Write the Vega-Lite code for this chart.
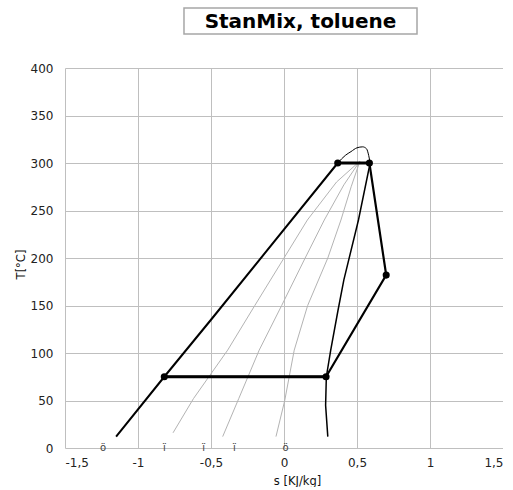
{
  "$schema": "https://vega.github.io/schema/vega-lite/v6.json",
  "padding": {"left": 15, "top": 7, "right": 0, "bottom": 0},
  "background": "white",
  "config": {
    "view": {"stroke": null},
    "font": "DejaVu Sans",
    "axis": {
      "grid": true, "gridColor": "#bfbfbf", "gridWidth": 1,
      "domain": false, "ticks": false,
      "labelFont": "DejaVu Sans", "labelFontSize": 12, "labelColor": "#222",
      "titleFont": "DejaVu Sans", "titleFontSize": 11.5, "titleFontWeight": "normal", "titleColor": "#111"
    }
  },
  "datasets": {
    "grey": [
      {"c": "L1", "i": 1, "s": -0.76, "T": 16},
      {"c": "L1", "i": 2, "s": -0.62, "T": 52},
      {"c": "L1", "i": 3, "s": -0.386, "T": 103},
      {"c": "L1", "i": 4, "s": -0.2, "T": 150},
      {"c": "L1", "i": 5, "s": 0.0, "T": 200},
      {"c": "L1", "i": 6, "s": 0.16, "T": 240},
      {"c": "L1", "i": 7, "s": 0.36, "T": 280},
      {"c": "L1", "i": 8, "s": 0.52, "T": 302},
      {"c": "L2", "i": 1, "s": -0.42, "T": 12},
      {"c": "L2", "i": 2, "s": -0.31, "T": 52},
      {"c": "L2", "i": 3, "s": -0.17, "T": 103},
      {"c": "L2", "i": 4, "s": -0.016, "T": 150},
      {"c": "L2", "i": 5, "s": 0.145, "T": 200},
      {"c": "L2", "i": 6, "s": 0.276, "T": 240},
      {"c": "L2", "i": 7, "s": 0.41, "T": 277},
      {"c": "L2", "i": 8, "s": 0.52, "T": 302},
      {"c": "L3", "i": 1, "s": -0.055, "T": 12},
      {"c": "L3", "i": 2, "s": 0.005, "T": 50},
      {"c": "L3", "i": 3, "s": 0.07, "T": 103},
      {"c": "L3", "i": 4, "s": 0.162, "T": 150},
      {"c": "L3", "i": 5, "s": 0.3, "T": 200},
      {"c": "L3", "i": 6, "s": 0.39, "T": 240},
      {"c": "L3", "i": 7, "s": 0.46, "T": 275},
      {"c": "L3", "i": 8, "s": 0.52, "T": 302}
    ],
    "liquid": [
      {"i": 1, "s": -1.15, "T": 12},
      {"i": 2, "s": -0.82, "T": 75},
      {"i": 3, "s": -0.5, "T": 135},
      {"i": 4, "s": 0.368, "T": 300}
    ],
    "dome": [
      {"i": 1, "s": 0.368, "T": 300},
      {"i": 2, "s": 0.42, "T": 308},
      {"i": 3, "s": 0.459, "T": 312},
      {"i": 4, "s": 0.5, "T": 316},
      {"i": 5, "s": 0.539, "T": 317},
      {"i": 6, "s": 0.565, "T": 315},
      {"i": 7, "s": 0.58, "T": 308},
      {"i": 8, "s": 0.59, "T": 300}
    ],
    "vapor": [
      {"i": 1, "s": 0.59, "T": 300},
      {"i": 2, "s": 0.51, "T": 240},
      {"i": 3, "s": 0.41, "T": 177},
      {"i": 4, "s": 0.37, "T": 145},
      {"i": 5, "s": 0.32, "T": 103},
      {"i": 6, "s": 0.29, "T": 75},
      {"i": 7, "s": 0.285, "T": 45},
      {"i": 8, "s": 0.3, "T": 12}
    ],
    "cycle": [
      {"i": 1, "s": -0.82, "T": 75},
      {"i": 2, "s": 0.288, "T": 75},
      {"i": 3, "s": 0.7, "T": 182},
      {"i": 4, "s": 0.585, "T": 300},
      {"i": 5, "s": 0.368, "T": 300}
    ],
    "isobars": [
      {"seg": "low", "s": -0.82, "T": 75},
      {"seg": "low", "s": 0.288, "T": 75},
      {"seg": "high", "s": 0.585, "T": 300},
      {"seg": "high", "s": 0.368, "T": 300}
    ],
    "ticksx": [
      {"s": -1.24, "T": 0, "lab": "ö"},
      {"s": -0.82, "T": 0, "lab": "ï"},
      {"s": -0.55, "T": 0, "lab": "ï"},
      {"s": -0.34, "T": 0, "lab": "ï"},
      {"s": 0.01, "T": 0, "lab": "ö"}
    ]
  },
  "vconcat": [
    {
      "width": 438,
      "height": 26,
      "data": {"values": [{}]},
      "layer": [
        {
          "mark": {"type": "rect", "fill": "white", "stroke": "#a6a6a6", "strokeWidth": 1.5},
          "encoding": {
            "x": {"datum": -0.685, "type": "quantitative", "scale": {"domain": [-1.5, 1.5], "nice": false}, "axis": null},
            "x2": {"datum": 0.911}
          }
        },
        {
          "mark": {"type": "text", "font": "DejaVu Sans", "fontWeight": "bold", "fontSize": 20, "color": "black", "dy": 1},
          "encoding": {
            "x": {"datum": 0.113, "type": "quantitative"},
            "text": {"value": "StanMix, toluene"}
          }
        }
      ]
    },
    {
      "width": 438,
      "height": 380,
      "encoding": {
        "x": {
          "field": "s", "type": "quantitative",
          "scale": {"domain": [-1.5, 1.5], "nice": false, "zero": false},
          "axis": {
            "title": "s [KJ/kg]", "values": [-1.5, -1, -0.5, 0, 0.5, 1, 1.5],
            "labelExpr": "replace(toString(datum.value), '.', ',')",
            "labelPadding": 9, "titlePadding": 7, "titleX": 232
          }
        },
        "y": {
          "field": "T", "type": "quantitative",
          "scale": {"domain": [0, 400], "nice": false},
          "axis": {
            "title": "T[°C]", "values": [0, 50, 100, 150, 200, 250, 300, 350, 400],
            "labelPadding": 12, "titlePadding": 4, "titleY": 196
          }
        }
      },
      "layer": [
        {
          "data": {"name": "grey"},
          "mark": {"type": "line", "color": "#b3b3b3", "strokeWidth": 1},
          "encoding": {"detail": {"field": "c"}, "order": {"field": "i"}}
        },
        {
          "data": {"name": "liquid"},
          "mark": {"type": "line", "color": "black", "strokeWidth": 2},
          "encoding": {"order": {"field": "i"}}
        },
        {
          "data": {"name": "dome"},
          "mark": {"type": "line", "color": "black", "strokeWidth": 1, "interpolate": "monotone"},
          "encoding": {"order": {"field": "i"}}
        },
        {
          "data": {"name": "vapor"},
          "mark": {"type": "line", "color": "black", "strokeWidth": 1.5},
          "encoding": {"order": {"field": "i"}}
        },
        {
          "data": {"name": "cycle"},
          "mark": {"type": "line", "color": "black", "strokeWidth": 2.2},
          "encoding": {"order": {"field": "i"}}
        },
        {
          "data": {"name": "isobars"},
          "mark": {"type": "line", "color": "black", "strokeWidth": 3.2},
          "encoding": {"detail": {"field": "seg"}}
        },
        {
          "data": {"name": "cycle"},
          "mark": {"type": "point", "shape": "circle", "filled": true, "color": "black", "size": 50, "opacity": 1}
        },
        {
          "data": {"name": "ticksx"},
          "mark": {"type": "text", "fontSize": 10, "color": "#444", "baseline": "middle"},
          "encoding": {"text": {"field": "lab"}}
        }
      ]
    }
  ],
  "spacing": 27
}
